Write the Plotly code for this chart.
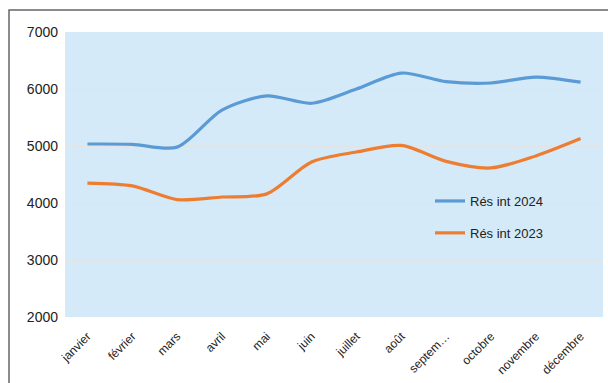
import plotly.graph_objects as go

mois = ["janvier", "février", "mars", "avril", "mai", "juin", "juillet",
        "août", "septem…", "octobre", "novembre", "décembre"]
res_2024 = [5035, 5030, 4980, 5630, 5880, 5750, 6000, 6280, 6130, 6105, 6210, 6120]
res_2023 = [4350, 4300, 4060, 4105, 4160, 4720, 4895, 5010, 4730, 4615, 4825, 5130]

W, H = 608, 383
L, R, T, B = 65, 5, 32, 66
pw, ph = W - L - R, H - T - B

fig = go.Figure()
fig.add_trace(go.Scatter(x=mois, y=res_2024, name="Rés int 2024", mode="lines",
                         legendgroup="a",
                         line=dict(color="#5b9bd5", width=3.2, shape="spline", smoothing=0.8)))
fig.add_trace(go.Scatter(x=mois, y=res_2023, name="Rés int 2023", mode="lines",
                         legendgroup="b",
                         line=dict(color="#ed7d31", width=3.2, shape="spline", smoothing=0.8)))

# outer frame of the chart area
fig.add_shape(type="rect", xref="paper", yref="paper",
              x0=(9 - L) / pw, x1=(W + 10 - L) / pw,
              y0=-(B + 10) / ph, y1=1 + (T - 10) / ph,
              line=dict(color="#666666", width=1.5), fillcolor="rgba(0,0,0,0)", layer="below")

fig.update_layout(
    width=W, height=H,
    margin=dict(l=L, r=R, t=T, b=B),
    paper_bgcolor="white",
    plot_bgcolor="#d5eaf9",
    font=dict(family="Liberation Sans, Arial, sans-serif", color="#222222"),
    showlegend=True,
    legend=dict(x=(430 - L) / pw, y=(317 - 186) / ph, xanchor="left", yanchor="top",
                bgcolor="rgba(0,0,0,0)", font=dict(size=13, color="#222222"),
                traceorder="grouped", itemwidth=30, tracegroupgap=12),
    xaxis=dict(showgrid=False, tickangle=-45, tickfont=dict(size=12),
               range=[-0.5, 11.5], ticks="", showline=False, zeroline=False,
               ticklabelstandoff=9),
    yaxis=dict(range=[2000, 7000], dtick=1000, showgrid=True, gridcolor="#e3e3e3",
               gridwidth=1, tickfont=dict(size=14), zeroline=False, showline=False,
               ticks="", ticklabelstandoff=6),
)

fig.write_html("out.html")
